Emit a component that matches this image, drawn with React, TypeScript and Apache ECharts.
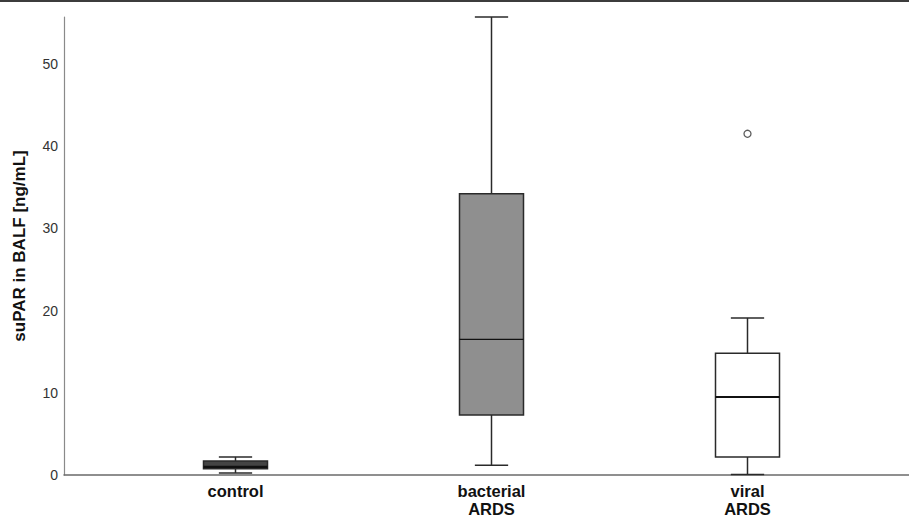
import React, { useEffect, useRef } from "react";
import * as echarts from "echarts";

const categories = ["control", "bacterial\nARDS", "viral\nARDS"];
const whiskerLow = [0.25, 1.2, 0.05];
const quartile1 = [0.75, 7.3, 2.2];
const medians = [1.0, 16.5, 9.5];
const quartile3 = [1.7, 34.2, 14.8];
const whiskerHigh = [2.2, 55.7, 19.1];
const outliers: [number, number][] = [[2, 41.5]];
const yTicksInterval = 10;
const yMax = 55.7;

const boxFills = ["#444444", "#8f8f8f", "#ffffff"];
const medianWidths = [2.2, 1.2, 2];

export default function App() {
  const ref = useRef<HTMLDivElement>(null);
  useEffect(() => {
    document.body.style.margin = "0";
    const chart = echarts.init(ref.current!, null, { renderer: "svg" });
    const stroke = "#2a2a2a";
    const boxData = categories.map((_, i) => [
      i,
      whiskerLow[i],
      quartile1[i],
      medians[i],
      quartile3[i],
      whiskerHigh[i],
    ]);
    chart.setOption({
      animation: false,
      backgroundColor: "#ffffff",
      graphic: [
        {
          type: "rect",
          shape: { x: 0, y: 0, width: 909, height: 2 },
          style: { fill: "#3c3c3c" },
          silent: true,
        },
      ],
      grid: [
        { left: 64, right: 0, top: 17, bottom: 44, containLabel: false, outerBoundsMode: "none" },
        { left: 107.5, right: 33.5, top: 17, bottom: 44, containLabel: false, outerBoundsMode: "none" },
      ],
      xAxis: [
        {
          gridIndex: 0,
          type: "category",
          data: [""],
          axisLine: { show: true, lineStyle: { color: "#6a6a6a", width: 1.5 } },
          axisTick: { show: false },
          axisLabel: { show: false },
        },
        {
          gridIndex: 1,
          type: "category",
          data: categories,
          axisLine: { show: false },
          axisTick: { show: false },
          axisLabel: {
            show: true,
            margin: 7,
            fontFamily: "Arial, 'Liberation Sans', sans-serif",
            fontWeight: "bold",
            fontSize: 16.5,
            lineHeight: 18,
            color: "#111111",
          },
        },
      ],
      yAxis: [
        {
          gridIndex: 0,
          type: "value",
          min: 0,
          max: yMax,
          interval: yTicksInterval,
          name: "suPAR in BALF [ng/mL]",
          nameLocation: "middle",
          nameGap: 36,
          nameTextStyle: {
            fontFamily: "Arial, 'Liberation Sans', sans-serif",
            fontWeight: "bold",
            fontSize: 17,
            color: "#111111",
          },
          axisLine: { show: true, lineStyle: { color: "#8a8a8a", width: 1.2 } },
          axisTick: { show: false },
          splitLine: { show: false },
          axisLabel: {
            margin: 6,
            showMaxLabel: false,
            fontFamily: "Arial, 'Liberation Sans', sans-serif",
            fontSize: 14,
            color: "#333333",
            formatter: (v: number) => (v % yTicksInterval === 0 ? String(v) : ""),
          },
        },
        {
          gridIndex: 1,
          type: "value",
          min: 0,
          max: yMax,
          show: false,
        },
      ],
      series: [
        {
          type: "custom",
          xAxisIndex: 1,
          yAxisIndex: 1,
          data: boxData,
          encode: { x: 0, y: [1, 2, 3, 4, 5] },
          renderItem: (params: any, api: any) => {
            const idx = api.value(0);
            const band = api.size([1, 0])[0];
            const boxW = band * 0.25;
            const capW = boxW * 0.52;
            const pLow = api.coord([idx, api.value(1)]);
            const pQ1 = api.coord([idx, api.value(2)]);
            const pMed = api.coord([idx, api.value(3)]);
            const pQ3 = api.coord([idx, api.value(4)]);
            const pHigh = api.coord([idx, api.value(5)]);
            const x = pLow[0];
            const ls = { stroke, lineWidth: 1.5 };
            return {
              type: "group",
              children: [
                { type: "line", shape: { x1: x, y1: pQ3[1], x2: x, y2: pHigh[1] }, style: ls },
                { type: "line", shape: { x1: x, y1: pQ1[1], x2: x, y2: pLow[1] }, style: ls },
                { type: "line", shape: { x1: x - capW / 2, y1: pHigh[1], x2: x + capW / 2, y2: pHigh[1] }, style: ls },
                { type: "line", shape: { x1: x - capW / 2, y1: pLow[1], x2: x + capW / 2, y2: pLow[1] }, style: ls },
                {
                  type: "rect",
                  shape: { x: x - boxW / 2, y: pQ3[1], width: boxW, height: pQ1[1] - pQ3[1] },
                  style: { fill: boxFills[idx], stroke, lineWidth: 1.5 },
                },
                {
                  type: "line",
                  shape: { x1: x - boxW / 2, y1: pMed[1], x2: x + boxW / 2, y2: pMed[1] },
                  style: { stroke: "#111111", lineWidth: medianWidths[idx] },
                },
              ],
            };
          },
        },
        {
          type: "scatter",
          xAxisIndex: 1,
          yAxisIndex: 1,
          data: outliers,
          symbol: "circle",
          symbolSize: 7,
          itemStyle: { color: "#ffffff", borderColor: "#333333", borderWidth: 1.3 },
        },
      ],
    });
    return () => chart.dispose();
  }, []);
  return <div ref={ref} style={{ width: 909, height: 519 }} />;
}
